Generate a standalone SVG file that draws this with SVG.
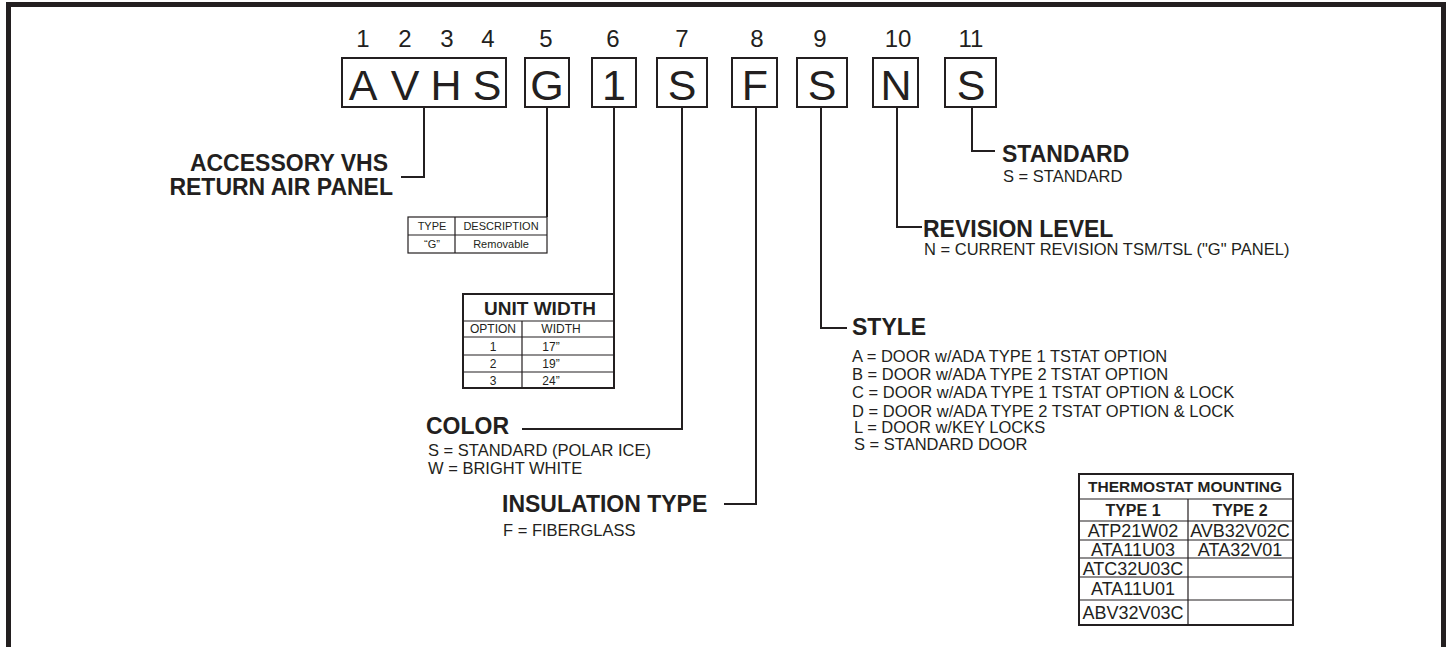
<svg xmlns="http://www.w3.org/2000/svg" width="1449" height="647" viewBox="0 0 1449 647">
<style>
text{font-family:"Liberation Sans",Arial,sans-serif;fill:#231f20}
.num{font-size:24px;text-anchor:middle}
.big{font-size:43px;text-anchor:middle}
.hd{font-size:23px;font-weight:bold}
.sub{font-size:16.5px}
.sm{font-size:11px;text-anchor:middle}
.tw{font-size:12px;text-anchor:middle}
.box{fill:none;stroke:#231f20;stroke-width:2}
.ln{fill:none;stroke:#231f20;stroke-width:2}
.thin{fill:none;stroke:#231f20;stroke-width:1.2}
.tt{font-size:15.5px;font-weight:bold;text-anchor:middle}
.th{font-size:16px;font-weight:bold;text-anchor:middle}
.td{font-size:18px;text-anchor:middle}
</style>
<rect width="1449" height="647" fill="#fff"/>
<path d="M8.5,647 V4.5 H1443.5 V647" fill="none" stroke="#231f20" stroke-width="5"/>

<g id="numbers">
<text class="num" x="363" y="47">1</text>
<text class="num" x="405" y="47">2</text>
<text class="num" x="447" y="47">3</text>
<text class="num" x="488" y="47">4</text>
<text class="num" x="546" y="47">5</text>
<text class="num" x="613" y="47">6</text>
<text class="num" x="682" y="47">7</text>
<text class="num" x="757" y="47">8</text>
<text class="num" x="820" y="47">9</text>
<text class="num" x="898" y="47">10</text>
<text class="num" x="971" y="47">11</text>
</g>

<g id="box-avhs">
<rect class="box" x="342" y="58" width="164" height="49"/>
<text class="big" x="363" y="100">A</text>
<text class="big" x="405" y="100">V</text>
<text class="big" x="446" y="100">H</text>
<text class="big" x="487" y="100">S</text>
</g>
<g id="box-g"><rect class="box" x="525" y="58" width="44" height="49"/><text class="big" x="547" y="100">G</text></g>
<g id="box-1"><rect class="box" x="592" y="58" width="44" height="49"/><text class="big" x="614" y="100">1</text></g>
<g id="box-s7"><rect class="box" x="657" y="58" width="50" height="49"/><text class="big" x="682" y="100">S</text></g>
<g id="box-f"><rect class="box" x="732" y="58" width="45" height="49"/><text class="big" x="755" y="100">F</text></g>
<g id="box-s9"><rect class="box" x="797" y="58" width="50" height="49"/><text class="big" x="822" y="100">S</text></g>
<g id="box-n"><rect class="box" x="873" y="58" width="45" height="49"/><text class="big" x="896" y="100">N</text></g>
<g id="box-s11"><rect class="box" x="945" y="58" width="51" height="49"/><text class="big" x="971" y="100">S</text></g>

<g id="connectors">
<path class="ln" d="M424,107 V177 H401"/>
<path class="ln" d="M547,107 V217"/>
<path class="ln" d="M614,107 V294"/>
<path class="ln" d="M682,107 V429 H522"/>
<path class="ln" d="M756,107 V504 H724"/>
<path class="ln" d="M821,107 V328 H847"/>
<path class="ln" d="M897,107 V227 H922"/>
<path class="ln" d="M972,107 V151 H995"/>
</g>

<g id="label-accessory">
<text class="hd" x="388" y="171" text-anchor="end">ACCESSORY VHS</text>
<text class="hd" x="393" y="195" text-anchor="end">RETURN AIR PANEL</text>
</g>

<g id="table-type">
<rect class="thin" x="408" y="217" width="139" height="36"/>
<path class="thin" d="M455,217 V253 M408,235 H547"/>
<text class="sm" x="432" y="230">TYPE</text>
<text class="sm" x="501" y="230">DESCRIPTION</text>
<text class="sm" x="432" y="248">“G”</text>
<text class="sm" x="501" y="248">Removable</text>
</g>

<g id="table-width">
<rect class="box" x="463" y="294" width="151" height="94"/>
<path class="thin" d="M463,321 H614 M463,337 H614 M463,355 H614 M463,372 H614 M522,321 V388"/>
<text x="540" y="315" font-size="19" font-weight="bold" text-anchor="middle">UNIT WIDTH</text>
<text class="tw" x="493" y="333">OPTION</text>
<text class="tw" x="561" y="333">WIDTH</text>
<text class="tw" x="493" y="351">1</text>
<text class="tw" x="551" y="351">17”</text>
<text class="tw" x="493" y="368">2</text>
<text class="tw" x="551" y="368">19”</text>
<text class="tw" x="493" y="385">3</text>
<text class="tw" x="551" y="385">24”</text>
</g>

<g id="label-color">
<text class="hd" x="426" y="434">COLOR</text>
<text class="sub" x="428" y="456">S = STANDARD (POLAR ICE)</text>
<text class="sub" x="428" y="474">W = BRIGHT WHITE</text>
</g>

<g id="label-insulation">
<text class="hd" x="502" y="512">INSULATION TYPE</text>
<text class="sub" x="503" y="536">F = FIBERGLASS</text>
</g>

<g id="label-style">
<text class="hd" x="852" y="335">STYLE</text>
<text class="sub" x="852" y="362">A = DOOR w/ADA TYPE 1 TSTAT OPTION</text>
<text class="sub" x="852" y="380">B = DOOR w/ADA TYPE 2 TSTAT OPTION</text>
<text class="sub" x="852" y="398">C = DOOR w/ADA TYPE 1 TSTAT OPTION &amp; LOCK</text>
<text class="sub" x="852" y="417">D = DOOR w/ADA TYPE 2 TSTAT OPTION &amp; LOCK</text>
<text class="sub" x="854" y="433">L = DOOR w/KEY LOCKS</text>
<text class="sub" x="854" y="450">S = STANDARD DOOR</text>
</g>

<g id="label-revision">
<text class="hd" x="923" y="237">REVISION LEVEL</text>
<text class="sub" x="924" y="255">N = CURRENT REVISION TSM/TSL ("G" PANEL)</text>
</g>

<g id="label-standard">
<text class="hd" x="1002" y="162">STANDARD</text>
<text class="sub" x="1003" y="182">S = STANDARD</text>
</g>

<g id="table-thermostat">
<rect class="box" x="1079" y="474" width="214" height="151"/>
<path class="thin" d="M1079,499 H1293 M1079,521 H1293 M1079,540 H1293 M1079,558 H1293 M1079,577 H1293 M1079,600 H1293 M1188,499 V625"/>
<text class="tt" x="1185" y="492">THERMOSTAT MOUNTING</text>
<text class="th" x="1133" y="516">TYPE 1</text>
<text class="th" x="1240" y="516">TYPE 2</text>
<text class="td" x="1133" y="537">ATP21W02</text>
<text class="td" x="1240" y="537">AVB32V02C</text>
<text class="td" x="1133" y="556">ATA11U03</text>
<text class="td" x="1240" y="556">ATA32V01</text>
<text class="td" x="1133" y="575">ATC32U03C</text>
<text class="td" x="1133" y="595">ATA11U01</text>
<text class="td" x="1133" y="619">ABV32V03C</text>
</g>
</svg>
